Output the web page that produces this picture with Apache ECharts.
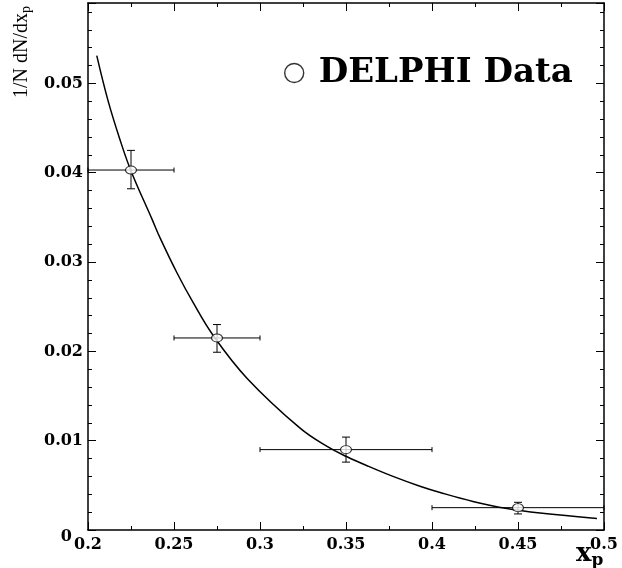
<!DOCTYPE html>
<html>
<head>
<meta charset="utf-8">
<script src="https://cdn.jsdelivr.net/npm/echarts@6/dist/echarts.min.js"></script>
<style>
html,body{margin:0;padding:0;background:#fff;}
#chart{width:622px;height:568px;}
</style>
</head>
<body>
<div id="chart"></div>
<script>
// ---- data ----
var xVals  = [0.225, 0.275, 0.35, 0.45];
var yVals  = [0.0403, 0.0215, 0.0090, 0.0025];
var xLow   = [0.20, 0.25, 0.30, 0.40];
var xHigh  = [0.25, 0.30, 0.40, 0.50];
var yLow   = [0.0382, 0.0199, 0.0076, 0.0018];
var yHigh  = [0.0425, 0.0230, 0.0104, 0.0031];

var curveX = [0.2051, 0.2116, 0.2186, 0.2250, 0.2372, 0.2419, 0.2517, 0.2610, 0.2727, 0.2924,
              0.3233, 0.3395, 0.3506, 0.3622, 0.3773, 0.3930, 0.4047, 0.4238, 0.4436, 0.4628, 0.4959];
var curveY = [0.0531, 0.0481, 0.0437, 0.0402, 0.0348, 0.0327, 0.0288, 0.0255, 0.0218, 0.0170,
              0.0114, 0.0093, 0.0082, 0.0072, 0.0060, 0.0049, 0.0042, 0.0032, 0.0024, 0.0019, 0.0013];

var xTicks = [0.2, 0.25, 0.3, 0.35, 0.4, 0.45, 0.5];
var yTicks = [0, 0.01, 0.02, 0.03, 0.04, 0.05];
var seriesName = 'DELPHI Data';

// ---- build ----
var pts = xVals.map(function (x, i) { return [x, yVals[i], xLow[i], xHigh[i], yLow[i], yHigh[i]]; });
var curve = curveX.map(function (x, i) { return [x, curveY[i]]; });

var FONT_B = 'DejaVu Serif';
function near(v, list) {
  for (var i = 0; i < list.length; i++) if (Math.abs(v - list[i]) < 1e-9) return list[i];
  return null;
}
var lineStyle = { color: '#000', width: 1.5 };

function mkX(pos, show) {
  return {
    type: 'value', position: pos, min: 0.2, max: 0.5, interval: 0.05,
    axisLine: { show: true, onZero: false, lineStyle: lineStyle },
    axisTick: { show: true, inside: true, length: 8, lineStyle: { color: '#000', width: 1 } },
    minorTick: { show: true, splitNumber: 2, length: 4, lineStyle: { color: '#000', width: 1 } },
    splitLine: { show: false },
    axisLabel: {
      show: show, margin: 7, color: '#000', fontFamily: FONT_B, fontWeight: 'bold', fontSize: 16,
      formatter: function (v) { var t = near(v, xTicks); return t === null ? '' : String(t); }
    }
  };
}
function mkY(pos, show) {
  return {
    type: 'value', position: pos, min: 0, max: 0.059, interval: 0.01,
    axisLine: { show: true, onZero: false, lineStyle: lineStyle },
    axisTick: { show: true, inside: true, length: 8, lineStyle: { color: '#000', width: 1 } },
    minorTick: { show: true, splitNumber: 5, length: 4, lineStyle: { color: '#000', width: 1 } },
    splitLine: { show: false },
    axisLabel: {
      show: show, margin: 5, color: '#000', fontFamily: FONT_B, fontWeight: 'bold', fontSize: 16,
      showMaxLabel: false,
      formatter: function (v) {
        var t = near(v, yTicks);
        if (t === null) return '';
        if (t === 0) return '{z|0}';
        return String(t);
      },
      rich: { z: { fontFamily: FONT_B, fontWeight: 'bold', fontSize: 16, color: '#000', padding: [14, 11, 0, 0] } }
    }
  };
}

var chart = echarts.init(document.getElementById('chart'), null, { renderer: 'canvas' });
chart.setOption({
  backgroundColor: '#fff',
  animation: false,
  grid: { left: 88, right: 18, top: 3, bottom: 38, containLabel: false },
  xAxis: [mkX('bottom', true), mkX('top', false)],
  yAxis: [mkY('left', true), mkY('right', false)],
  legend: {
    data: [seriesName], left: 279, top: 51, itemWidth: 19, itemHeight: 19, itemGap: 0,
    icon: 'circle',
    itemStyle: { color: '#fff', borderColor: '#000', borderWidth: 1.4 },
    textStyle: { fontFamily: FONT_B, fontWeight: 'bold', fontSize: 34, color: '#000', padding: [0, 0, 0, 10] }
  },
  graphic: [
    {
      type: 'text', x: 22, y: 52, rotation: Math.PI / 2,
      style: {
        text: '1/N dN/dx{s|p}', fontFamily: 'Liberation Serif', fontSize: 20, fill: '#000',
        align: 'center', verticalAlign: 'middle',
        rich: { s: { fontFamily: 'Liberation Serif', fontSize: 14, fill: '#000', padding: [8, 0, 0, 0] } }
      }
    },
    {
      type: 'text', x: 576, y: 554,
      style: {
        text: 'x{s|p}', fontFamily: FONT_B, fontWeight: 'bold', fontSize: 26, fill: '#000',
        align: 'left', verticalAlign: 'middle',
        rich: { s: { fontFamily: FONT_B, fontWeight: 'bold', fontSize: 17, fill: '#000', padding: [14, 0, 0, 0] } }
      }
    }
  ],
  series: [
    {
      type: 'line', name: 'fit', data: curve, smooth: 0.4, showSymbol: false,
      lineStyle: { color: '#000', width: 1.5 }, z: 3
    },
    {
      type: 'custom', name: 'errors', data: pts, z: 4,
      renderItem: function (params, api) {
        var c = api.coord([api.value(0), api.value(1)]);
        var xl = api.coord([api.value(2), api.value(1)]);
        var xh = api.coord([api.value(3), api.value(1)]);
        var yl = api.coord([api.value(0), api.value(4)]);
        var yh = api.coord([api.value(0), api.value(5)]);
        var st = { stroke: '#000', lineWidth: 1 };
        var cap = 4, hc = 2.5;
        return {
          type: 'group',
          children: [
            { type: 'line', shape: { x1: xl[0], y1: c[1], x2: xh[0], y2: c[1] }, style: st },
            { type: 'line', shape: { x1: xl[0], y1: c[1] - hc, x2: xl[0], y2: c[1] + hc }, style: st },
            { type: 'line', shape: { x1: xh[0], y1: c[1] - hc, x2: xh[0], y2: c[1] + hc }, style: st },
            { type: 'line', shape: { x1: c[0], y1: yl[1], x2: c[0], y2: yh[1] }, style: st },
            { type: 'line', shape: { x1: c[0] - cap, y1: yl[1], x2: c[0] + cap, y2: yl[1] }, style: st },
            { type: 'line', shape: { x1: c[0] - cap, y1: yh[1], x2: c[0] + cap, y2: yh[1] }, style: st }
          ]
        };
      }
    },
    {
      type: 'scatter', name: seriesName, data: pts.map(function (p) { return [p[0], p[1]]; }),
      symbol: 'circle', symbolSize: [11, 8], z: 5,
      itemStyle: { color: '#fff', borderColor: '#000', borderWidth: 1 }
    }
  ]
});
</script>
</body>
</html>
